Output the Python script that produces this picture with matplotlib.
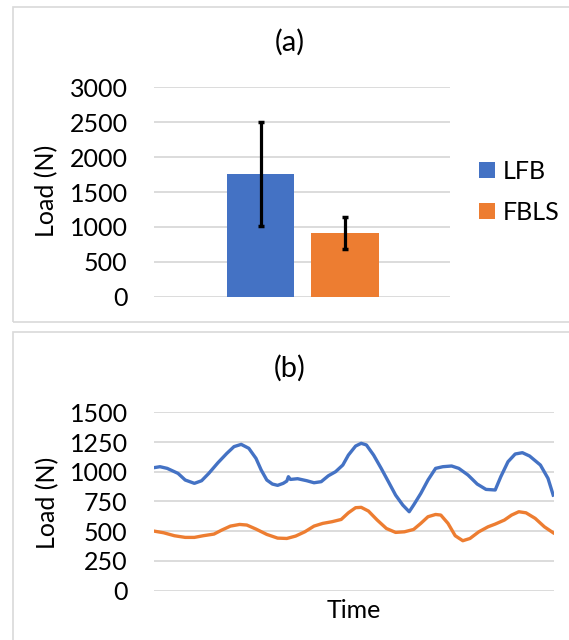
import matplotlib.pyplot as plt
from matplotlib.patches import Rectangle

# Load data
load_labels = ["LFB", "FBLS"]
mean_load = [1755, 913]
load_sd = [745, 233]

time_lfb = [0, 1.5, 3.3, 6.0, 7.8, 10.1, 11.9, 13.7, 16.0, 18.2, 20.0, 21.8, 23.7,
            25.5, 26.8, 28.2, 29.6, 30.9, 32.3, 33.2, 33.6, 34.1, 35.9, 38.2, 40.0,
            41.8, 43.6, 45.4, 47.2, 48.6, 50.4, 51.8, 53.1, 54.9, 56.8, 58.6, 60.4,
            62.2, 63.8, 64.9, 66.7, 68.5, 70.4, 72.2, 74.4, 76.2, 78.5, 80.8, 83.0,
            85.3, 86.7, 88.5, 90.3, 92.1, 93.9, 96.6, 98.5, 99.8]
lfb_load = [1034, 1042, 1028, 986, 930, 902, 924, 986, 1076, 1154, 1211, 1230, 1197,
            1112, 1014, 930, 896, 885, 902, 921, 958, 935, 941, 924, 907,
            916, 966, 1000, 1056, 1140, 1216, 1239, 1225, 1140, 1028, 916, 803,
            719, 663, 719, 817, 930, 1028, 1042, 1048, 1028, 972, 896, 851,
            846, 958, 1084, 1149, 1160, 1132, 1056, 944, 803]

time_fbls = [0, 2.4, 5.1, 7.8, 10.1, 12.3, 15.0, 16.9, 19.1, 21.4, 23.2, 25.5, 28.2,
             30.9, 33.2, 35.4, 37.7, 40.0, 42.2, 44.5, 46.8, 48.6, 50.4, 51.8, 53.6,
             55.8, 58.1, 60.4, 62.6, 64.9, 66.7, 68.5, 70.4, 71.7, 73.5, 75.3, 77.2,
             79.0, 81.2, 83.5, 85.3, 87.6, 89.4, 91.2, 93.0, 95.3, 97.6, 99.8]
fbls_load = [500, 486, 461, 447, 447, 461, 475, 508, 542, 556, 551, 517, 472,
             441, 438, 458, 494, 542, 565, 579, 598, 654, 697, 700, 669,
             593, 522, 489, 494, 514, 565, 621, 640, 635, 565, 461, 419,
             438, 494, 536, 559, 593, 635, 663, 654, 607, 536, 486]

blue = "#4472C4"
orange = "#ED7D31"
grid_col = "#D9D9D9"

plt.rcParams["font.family"] = ["Lato", "DejaVu Sans"]
fs = 18

fig = plt.figure(figsize=(5.69, 6.40), dpi=100)
W, H = 569, 640

# chart frames
fig.add_artist(Rectangle((13 / W, 1 - 322.3 / H), 1, (322.3 - 7.3) / H,
                         transform=fig.transFigure, fill=False,
                         edgecolor=grid_col, lw=1.2))
fig.add_artist(Rectangle((12.7 / W, -0.1), 1, 0.1 + (640 - 332.3) / H,
                         transform=fig.transFigure, fill=False,
                         edgecolor=grid_col, lw=1.2))


def style_axes(ax):
    for s in ax.spines.values():
        s.set_visible(False)
    ax.yaxis.grid(True, color=grid_col, lw=1.3)
    ax.set_axisbelow(True)
    ax.tick_params(axis="y", length=0, pad=19, labelsize=fs)
    ax.tick_params(axis="x", length=0, labelbottom=False)


# (a) mean peak load
ax1 = fig.add_axes([154 / W, 1 - 296.7 / H, 296 / W, 209.4 / H])
style_axes(ax1)
bar_x = [0.36, 0.645]
bar_colors = [blue, orange]
for i in range(2):
    ax1.bar(bar_x[i], mean_load[i], width=0.228, color=bar_colors[i],
            label=load_labels[i], zorder=2)
ax1.errorbar(bar_x, mean_load, yerr=load_sd, fmt="none", ecolor="black",
             elinewidth=2.3, capsize=2.4, capthick=2.5, zorder=3)
ax1.set_xlim(0, 1)
ax1.set_ylim(0, 3000)
ax1.set_yticks(range(0, 3001, 500))
ax1.set_ylabel("Load (N)", fontsize=fs)
ax1.yaxis.set_label_coords(-0.323, 0.505)
fig.text(290 / W, 1 - 42.5 / H, "(a)", ha="center", va="center", fontsize=21)
fig.legend(loc="center left", bbox_to_anchor=(479 / W, 1 - 192 / H),
           frameon=False, fontsize=fs, handlelength=0.64, handleheight=0.64,
           handletextpad=0.3, labelspacing=0.72, borderpad=0, borderaxespad=0)

# (b) load over time
ax2 = fig.add_axes([154 / W, 1 - 590.5 / H, 400 / W, 178.2 / H])
style_axes(ax2)
ax2.plot(time_lfb, lfb_load, color=blue, lw=2.4, solid_joinstyle="round")
ax2.plot(time_fbls, fbls_load, color=orange, lw=2.4, solid_joinstyle="round")
ax2.set_xlim(0, 100)
ax2.set_ylim(0, 1500)
ax2.set_yticks(range(0, 1501, 250))
ax2.set_ylabel("Load (N)", fontsize=fs)
ax2.yaxis.set_label_coords(-0.2375, 0.491)
ax2.set_xlabel("Time", fontsize=fs, labelpad=6)
fig.text(290 / W, 1 - 368 / H, "(b)", ha="center", va="center", fontsize=21)

fig.savefig("out.png", dpi=100)
